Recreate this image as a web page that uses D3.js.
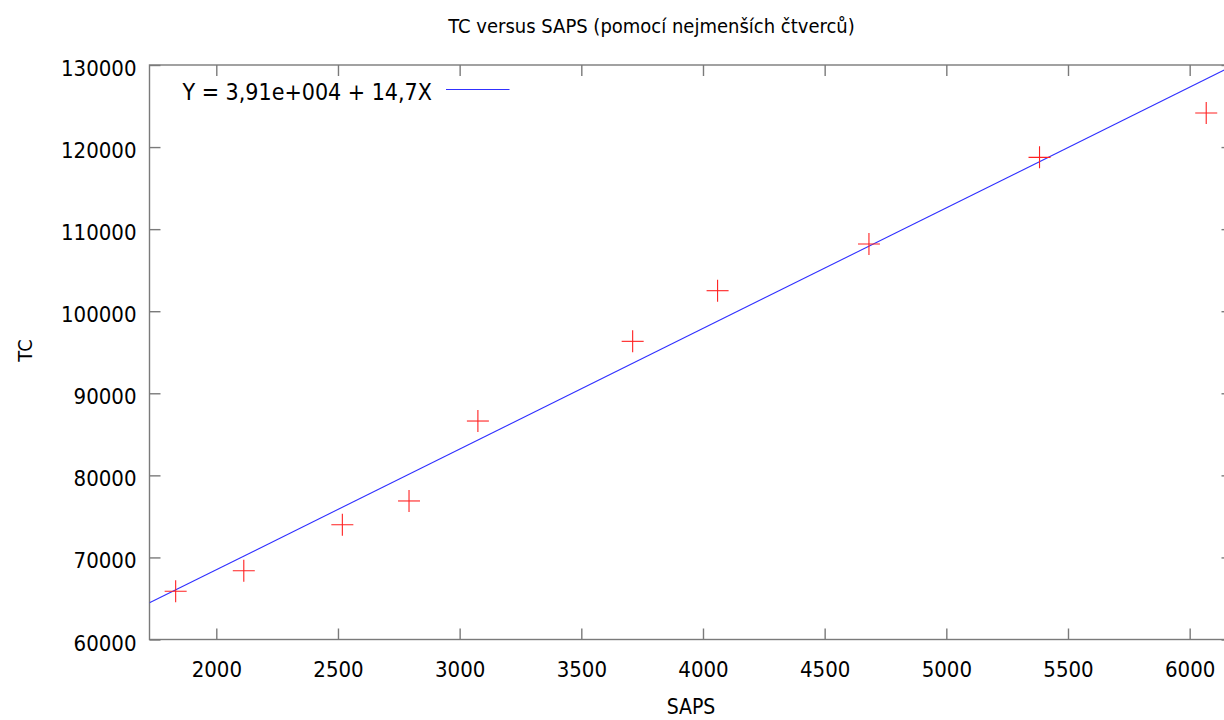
<!DOCTYPE html>
<html>
<head>
<meta charset="utf-8">
<script src="https://cdn.jsdelivr.net/npm/d3@7"></script>
<style>
  html, body { margin: 0; padding: 0; background: #fff; }
  svg { display: block; }
  text { font-family: "DejaVu Sans Condensed", "DejaVu Sans", sans-serif; font-stretch: condensed; fill: #000; }
</style>
</head>
<body>
<svg id="chart" width="1224" height="720"></svg>
<script>
// Observations: SAPS (x) and TC (y)
const saps = [1833, 2113, 2518, 2792, 3075, 3711, 4060, 4682, 5383, 6068];
const tc   = [65870, 68380, 73990, 76880, 86620, 96330, 102500, 108190, 118750, 124150];

// Least-squares fit shown in the key
const intercept = 3.91e4;
const slope = 14.7;
const fitLabel = "Y = 3,91e+004 + 14,7X";

const xTicks = [2000, 2500, 3000, 3500, 4000, 4500, 5000, 5500, 6000];
const yTicks = [60000, 70000, 80000, 90000, 100000, 110000, 120000, 130000];

const titleText = "TC versus SAPS (pomocí nejmenších čtverců)";
const xLabel = "SAPS";
const yLabel = "TC";

const m = { left: 149.5, right: 1232.5, top: 65, bottom: 639.5 };
const FS = 22;

const svg = d3.select("#chart");

const x = d3.scaleLinear().domain([1725.5, 6176]).range([m.left, m.right]);
const y = d3.scaleLinear().domain([60000, 130000]).range([m.bottom, m.top]);

const axisColor = "#7a7a7a";

// frame
svg.append("rect")
  .attr("x", m.left).attr("y", m.top)
  .attr("width", m.right - m.left).attr("height", m.bottom - m.top)
  .attr("fill", "none").attr("stroke", axisColor).attr("stroke-width", 1.4);

function styleAxis(g, showText) {
  g.select(".domain").remove();
  g.selectAll(".tick line").attr("stroke", axisColor).attr("stroke-width", 1.4);
  g.selectAll(".tick text").attr("font-size", FS).attr("fill", "#000")
    .style("font-family", '"DejaVu Sans Condensed", "DejaVu Sans", sans-serif');
  if (!showText) g.selectAll(".tick text").remove();
}

svg.append("g").attr("transform", `translate(0,${m.bottom})`)
  .call(d3.axisBottom(x).tickValues(xTicks).tickSize(-11).tickPadding(21.5).tickFormat(d3.format("d")))
  .call(g => styleAxis(g, true));

svg.append("g").attr("transform", `translate(0,${m.top})`)
  .call(d3.axisTop(x).tickValues(xTicks).tickSize(-11).tickFormat(""))
  .call(g => styleAxis(g, false));

svg.append("g").attr("transform", `translate(${m.left},0)`)
  .call(d3.axisLeft(y).tickValues(yTicks).tickSize(-11).tickPadding(13).tickFormat(d3.format("d")))
  .call(g => styleAxis(g, true))
  .call(g => g.selectAll(".tick text").attr("dy", "0.48em"));

svg.append("g").attr("transform", `translate(${m.right},0)`)
  .call(d3.axisRight(y).tickValues(yTicks).tickSize(-11).tickFormat(""))
  .call(g => styleAxis(g, false));

// clip for plotted data
svg.append("clipPath").attr("id", "plotClip")
  .append("rect").attr("x", m.left).attr("y", m.top).attr("width", m.right - m.left).attr("height", m.bottom - m.top);

const plot = svg.append("g").attr("clip-path", "url(#plotClip)");

// fitted line across the x range
const [x0, x1] = x.domain();
plot.append("line")
  .attr("x1", x(x0)).attr("y1", y(intercept + slope * x0))
  .attr("x2", x(x1)).attr("y2", y(intercept + slope * x1))
  .attr("stroke", "#3030ff").attr("stroke-width", 1.1);

// cross markers
const arm = 11;
const pts = saps.map((s, i) => ({ s, t: tc[i] }));
const marks = plot.selectAll("g.pt").data(pts).join("g").attr("class", "pt")
  .attr("transform", d => `translate(${x(d.s)},${y(d.t)})`);
marks.append("line").attr("x1", -arm).attr("x2", arm).attr("y1", 0).attr("y2", 0)
  .attr("stroke", "#ff2020").attr("stroke-width", 1.1);
marks.append("line").attr("x1", 0).attr("x2", 0).attr("y1", -arm).attr("y2", arm)
  .attr("stroke", "#ff2020").attr("stroke-width", 1.1);

// key
svg.append("text").attr("x", 182.5).attr("y", 100).attr("font-size", 23).text(fitLabel);
svg.append("line").attr("x1", 446).attr("x2", 509.5).attr("y1", 89.5).attr("y2", 89.5)
  .attr("stroke", "#3030ff").attr("stroke-width", 1.1);

// title and axis labels
svg.append("text").attr("x", 651.5).attr("y", 33).attr("text-anchor", "middle")
  .attr("font-size", 20).text(titleText);
svg.append("text").attr("x", 691).attr("y", 714).attr("text-anchor", "middle")
  .attr("font-size", 21).text(xLabel);
svg.append("text").attr("transform", "translate(32,350.5) rotate(-90)").attr("text-anchor", "middle")
  .attr("font-size", 20).text(yLabel);
</script>
</body>
</html>
